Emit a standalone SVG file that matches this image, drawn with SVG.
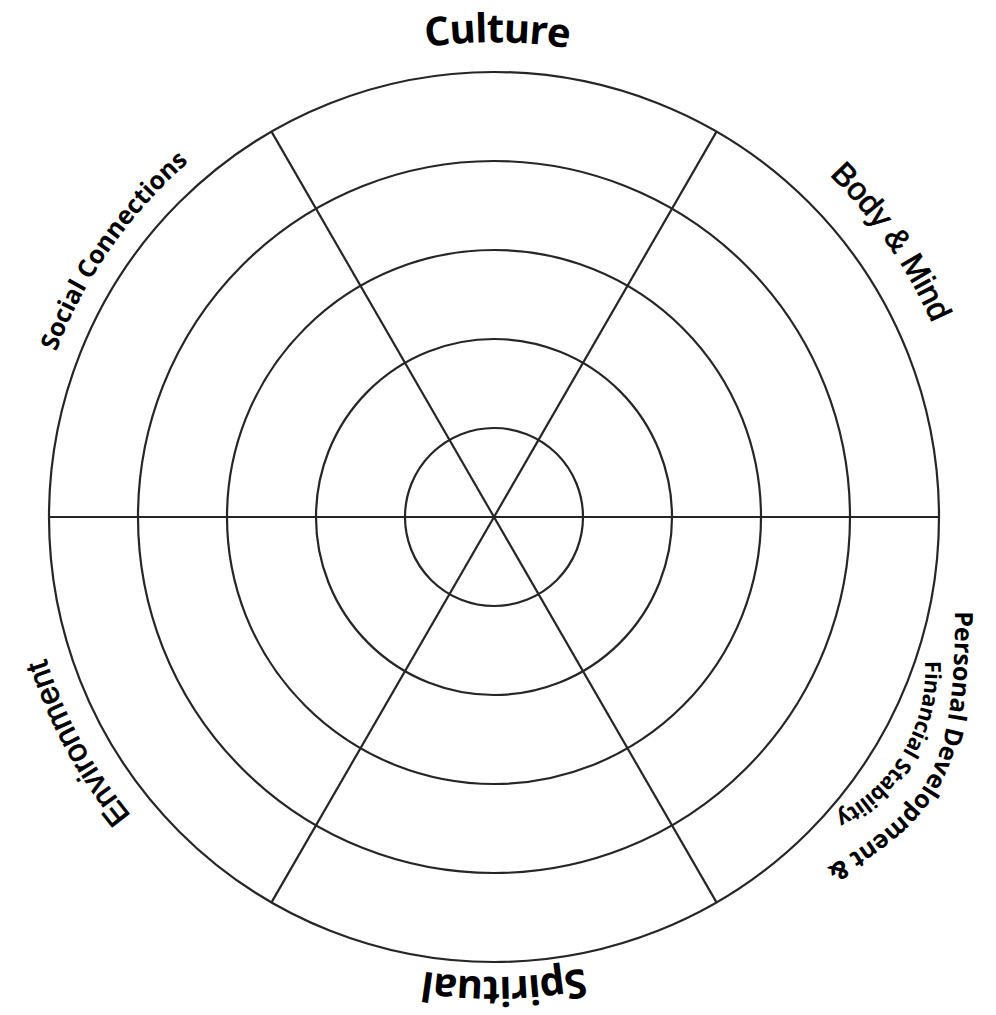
<svg xmlns="http://www.w3.org/2000/svg" width="996" height="1015" viewBox="0 0 996 1015">
<style>
.ring{fill:none;stroke:#262626;stroke-width:2.2}
.spoke{fill:none;stroke:#262626;stroke-width:2.2}
.seg{font-family:"Open Sans","Liberation Sans",sans-serif;font-weight:700;fill:#000}
.ari{font-family:"Liberation Sans",Arial,sans-serif;fill:#000;stroke:#000;stroke-width:0.8}
</style>
<defs>
<path id="pCulture" d="M82.5,279 A476,476 0 0 1 905.5,279"/>
<path id="pBody" d="M454.7,39.6 A479,479 0 0 1 927.1,721.7"/>
<path id="pSocial" d="M69.9,714.8 A468,468 0 0 1 534.8,50.8"/>
<path id="pSpirit" d="M895.7,736.9 A456,456 0 0 1 102.6,754.9"/>
<path id="pEnv" d="M481.7,986.9 A470,470 0 0 1 93.2,271.6"/>
<path id="pPers1" d="M955,611 C955,760 934,806 830,866 L740,918"/>
<path id="pPers2" d="M924.9,661 A162,162 0 0 1 763,832"/>
</defs>
<rect width="996" height="1015" fill="#fff"/>
<g id="wheel">
<circle class="ring" cx="494" cy="517" r="89"/>
<circle class="ring" cx="494" cy="517" r="178"/>
<circle class="ring" cx="494" cy="517" r="267"/>
<circle class="ring" cx="494" cy="517" r="356"/>
<circle class="ring" cx="494" cy="517" r="445"/>
</g>
<g id="connectors">
<line class="spoke" x1="49" y1="517" x2="939" y2="517"/>
<line class="spoke" x1="271.5" y1="131.6" x2="716.5" y2="902.4"/>
<line class="spoke" x1="716.5" y1="131.6" x2="271.5" y2="902.4"/>
</g>
<g id="culture"><text class="seg" font-size="40" letter-spacing="-1"><textPath href="#pCulture" startOffset="500" text-anchor="middle">Culture</textPath></text></g>
<g id="body-mind"><text class="ari" font-size="32"><textPath href="#pBody" startOffset="50%" text-anchor="middle">Body &amp; Mind</textPath></text></g>
<g id="social"><text class="seg" font-size="25"><textPath href="#pSocial" startOffset="50%" text-anchor="middle">Social Connections</textPath></text></g>
<g id="spiritual"><text class="seg" font-size="40" letter-spacing="-1"><textPath href="#pSpirit" startOffset="50%" text-anchor="middle">Spiritual</textPath></text></g>
<g id="environment"><text class="ari" font-size="32"><textPath href="#pEnv" startOffset="50%" text-anchor="middle">Environment</textPath></text></g>
<g id="personal">
<text class="seg" font-size="25"><textPath href="#pPers1">Personal Development &amp;</textPath></text>
<text class="seg" font-size="22" letter-spacing="-0.4"><textPath href="#pPers2">Financial Stability</textPath></text>
</g>
</svg>
